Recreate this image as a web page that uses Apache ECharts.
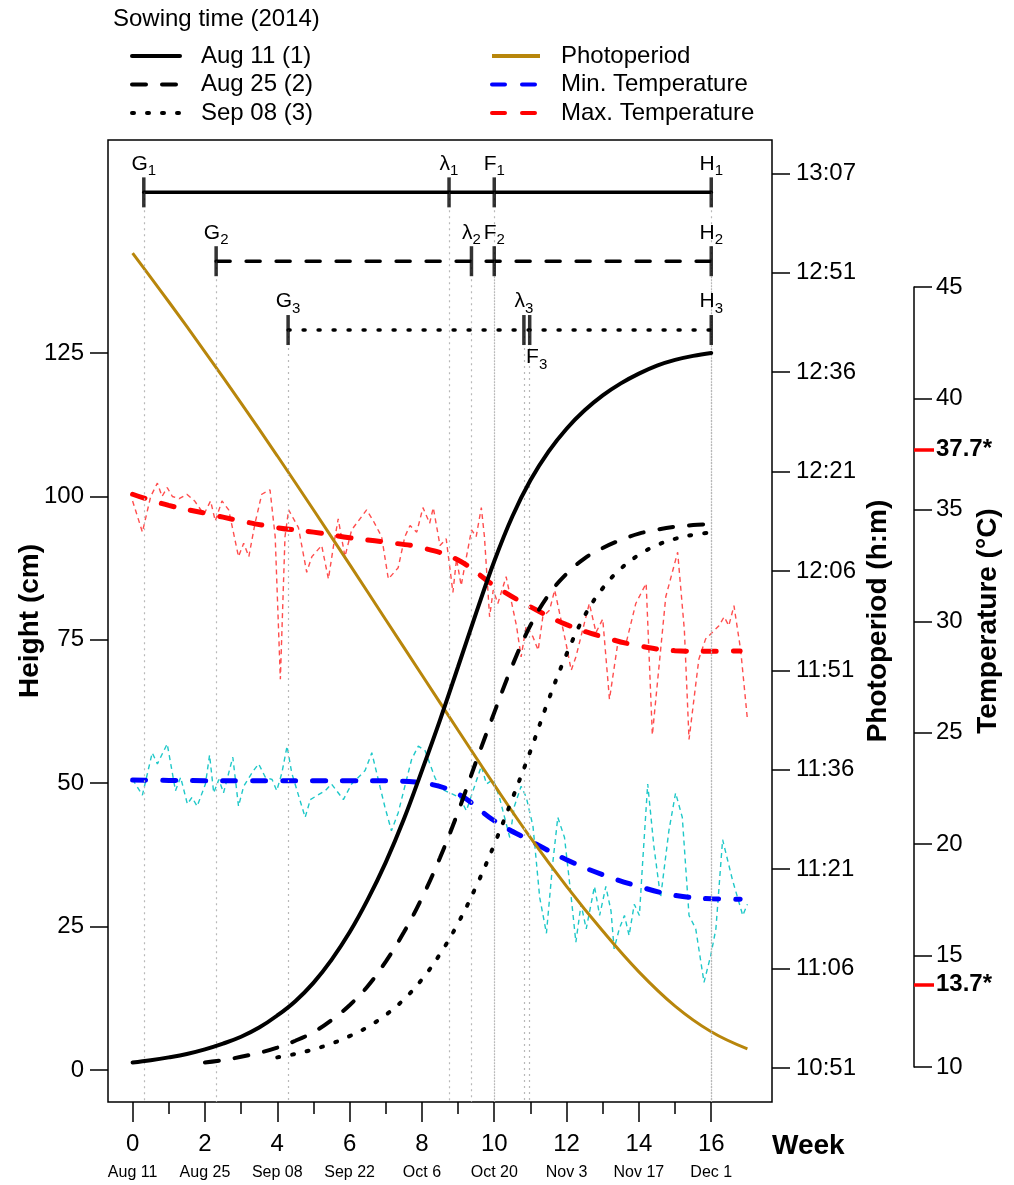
<!DOCTYPE html>
<html>
<head>
<meta charset="utf-8">
<script src="https://cdn.jsdelivr.net/npm/echarts@6/dist/echarts.min.js"></script>
<style>html,body{margin:0;padding:0;background:#fff;}#c{width:1014px;height:1185px;}</style>
</head>
<body>
<div id="c"></div>
<script>
// ---------------- DATA ----------------
const WEEK_MAJOR = [0, 2, 4, 6, 8, 10, 12, 14, 16];
const WEEK_MINOR = [1, 3, 5, 7, 9, 11, 13, 15];
const DATE_LABELS = ['Aug 11', 'Aug 25', 'Sep 08', 'Sep 22', 'Oct 6', 'Oct 20', 'Nov 3', 'Nov 17', 'Dec 1'];
const HEIGHT_TICKS = [0, 25, 50, 75, 100, 125];
const PHOTO_TICK_LABELS = ['10:51', '11:06', '11:21', '11:36', '11:51', '12:06', '12:21', '12:36', '12:51', '13:07'];
const TEMP_TICKS = [10, 15, 20, 25, 30, 35, 40, 45];
const TEMP_EXTREMES = [13.7, 37.7];

// growth curves (week, height cm), read every half week
const W1 = [0, 0.5, 1, 1.5, 2, 2.5, 3, 3.5, 4, 4.5, 5, 5.5, 6, 6.5, 7, 7.5, 8, 8.5, 9, 9.5, 10, 10.5, 11, 11.5, 12, 12.5, 13, 13.5, 14, 14.5, 15, 15.5, 16];
const H1 = [1.3, 1.7, 2.2, 2.8, 3.6, 4.6, 5.8, 7.4, 9.5, 12.0, 15.2, 19.2, 24.0, 29.7, 36.2, 43.7, 52.2, 61.0, 70.3, 79.7, 88.7, 96.5, 102.8, 107.8, 111.8, 115.0, 117.6, 119.7, 121.4, 122.8, 123.8, 124.5, 125];
const W2 = [2, 2.5, 3, 3.5, 4, 4.5, 5, 5.5, 6, 6.5, 7, 7.5, 8, 8.5, 9, 9.5, 10, 10.5, 11, 11.5, 12, 12.5, 13, 13.5, 14, 14.5, 15, 15.5, 16];
const H2 = [1.3, 1.7, 2.3, 3.0, 3.9, 5.1, 6.6, 8.7, 11.3, 14.6, 18.9, 24.0, 30.0, 37.0, 45.0, 53.8, 62.3, 70.5, 77.5, 82.8, 86.5, 89.2, 91.0, 92.4, 93.5, 94.2, 94.7, 95.0, 95.2];
const W3 = [4, 4.5, 5, 5.5, 6, 6.5, 7, 7.5, 8, 8.5, 9, 9.5, 10, 10.5, 11, 11.5, 12, 12.5, 13, 13.5, 14, 14.5, 15, 15.5, 16];
const H3 = [2.2, 2.8, 3.6, 4.6, 5.9, 7.5, 9.6, 12.3, 15.8, 20.2, 25.6, 32.0, 39.3, 47.3, 55.6, 64.5, 72.5, 79.2, 84.0, 87.4, 89.8, 91.5, 92.6, 93.3, 93.7];

// photoperiod (week, minutes of daylight)
const PHOTO_W = [0, 1, 2, 3, 4, 5, 6, 7, 8, 9, 10, 11, 12, 13, 14, 15, 16, 17];
const PHOTO_MIN = [774.8, 767.4, 759.8, 752.0, 744.0, 735.8, 727.5, 719.1, 710.7, 702.3, 694.0, 686.0, 678.6, 671.8, 665.6, 660.4, 656.5, 653.9];

// temperature trends (week, °C)
const MAXTR_W = [0, 1, 2, 3, 4, 5, 6, 7, 8, 9, 10, 11, 12, 13, 14, 15, 16, 16.8];
const MAXTR_T = [35.7, 35.2, 34.85, 34.5, 34.2, 34.0, 33.75, 33.55, 33.3, 32.75, 31.6, 30.65, 29.85, 29.3, 28.9, 28.68, 28.65, 28.67];
const MINTR_W = [0, 1, 2, 3, 4, 5, 6, 7, 8, 9, 10, 11, 12, 13, 14, 15, 16, 16.8];
const MINTR_T = [22.88, 22.86, 22.85, 22.85, 22.85, 22.85, 22.85, 22.84, 22.75, 22.25, 21.05, 20.15, 19.3, 18.63, 18.1, 17.7, 17.55, 17.53];

// daily temperatures (day after Aug 11, °C)
const MAXD_DAY = [0, 1.9, 3.5, 4.8, 5.7, 6.7, 7.7, 9, 10.5, 12, 13.8, 15.1, 16.0, 17.3, 18.6, 20.5, 21.5, 22.5, 23.7, 25.0, 26.6, 27.6, 28.6, 29.5, 30.2, 32.1, 33.7, 34.7, 36.6, 37.9, 38.9, 39.8, 41.1, 42.4, 45.3, 46.6, 48.2, 49.5, 51.4, 52.7, 53.7, 55.0, 56.2, 57.5, 58.2, 59.5, 60.7, 62.0, 62.7, 63.6, 64.3, 65.6, 66.5, 67.5, 68.1, 69.1, 69.8, 70.7, 72.3, 74.3, 75.2, 76.2, 77.5, 78.5, 79.4, 80.7, 81.7, 83.9, 84.9, 85.8, 88.4, 89.7, 91.0, 92.3, 93.9, 95.5, 97.4, 99.4, 100.6, 103.2, 105.5, 106.8, 107.7, 109.6, 110.9, 113.5, 114.5, 115.4, 116.4, 117.7, 119.0];
const MAXD_T = [35.4, 34.0, 35.6, 36.2, 35.6, 36.0, 35.6, 35.5, 35.7, 35.4, 34.8, 35.4, 34.5, 35.4, 35.0, 32.9, 33.5, 32.9, 34.4, 35.7, 35.9, 33.8, 27.4, 33.8, 35.0, 34.2, 32.2, 32.9, 33.4, 31.9, 33.4, 34.6, 32.9, 34.1, 35.0, 34.5, 33.8, 31.9, 32.4, 33.8, 34.3, 34.0, 35.1, 34.4, 35.1, 33.4, 33.7, 31.3, 32.8, 31.6, 32.5, 34.1, 33.8, 35.1, 33.8, 30.2, 31.4, 30.8, 32.0, 29.8, 28.4, 29.8, 29.3, 28.7, 30.2, 30.5, 31.4, 29.0, 27.8, 28.4, 30.8, 29.5, 30.1, 26.5, 29.0, 29.0, 30.8, 31.7, 24.9, 31.1, 33.1, 29.6, 24.7, 28.3, 29.2, 29.8, 30.2, 29.8, 30.7, 28.7, 25.6];
const MIND_DAY = [0, 1.9, 3.8, 4.8, 6.7, 8.3, 9.3, 10.6, 11.5, 12.5, 14.1, 14.9, 15.7, 16.7, 17.6, 19.4, 20.5, 21.5, 23.4, 24.4, 25.7, 27.0, 27.9, 28.9, 29.9, 30.8, 33.4, 34.4, 37.3, 38.5, 40.8, 42.4, 45.0, 46.3, 48.8, 50.1, 51.4, 54.0, 55.3, 56.6, 58.5, 59.5, 61.4, 63.3, 64.6, 65.9, 67.5, 68.5, 69.8, 71.0, 73.0, 73.9, 75.2, 76.2, 77.5, 78.8, 80.1, 81.3, 82.3, 83.6, 84.9, 85.8, 86.8, 87.8, 89.4, 90.4, 91.6, 92.6, 93.2, 94.2, 95.2, 96.1, 97.1, 98.1, 98.7, 99.7, 100.9, 102.2, 103.8, 105.1, 106.4, 107.7, 109.0, 110.6, 111.9, 112.9, 114.2, 116.1, 118.1, 119.0];
const MIND_T = [22.9, 22.2, 24.1, 23.6, 24.5, 22.4, 23.0, 21.8, 22.1, 21.7, 22.7, 24.0, 22.3, 22.9, 22.3, 23.9, 21.7, 22.6, 23.3, 23.6, 23.0, 22.9, 22.4, 23.2, 24.4, 23.2, 21.2, 22.0, 22.4, 22.7, 22.0, 22.7, 23.3, 24.1, 21.7, 20.6, 21.4, 23.8, 24.4, 24.2, 23.0, 22.5, 22.3, 22.1, 21.5, 22.4, 23.5, 22.7, 22.9, 22.1, 20.3, 21.7, 22.6, 22.1, 20.8, 17.6, 16.0, 19.1, 21.2, 20.3, 17.6, 15.6, 17.3, 16.2, 18.1, 16.8, 18.1, 17.0, 15.3, 16.2, 16.8, 15.9, 17.3, 16.8, 19.1, 22.7, 19.9, 17.6, 20.6, 22.3, 21.2, 16.8, 16.2, 13.8, 15.0, 16.2, 20.2, 18.4, 16.8, 17.3];

// phenological events per sowing (week)
const EV_G = [0.31, 2.31, 4.30];
const EV_L = [8.75, 9.37, 10.82];
const EV_F = [10.0, 10.0, 10.98];
const EV_H = [16, 16, 16];

// ---------------- CHART ----------------
const FONT = "'Liberation Sans', Arial, sans-serif";
const NARROW = "'Liberation Sans Narrow', 'Arial Narrow', 'Liberation Sans', sans-serif";
const H_MIN = -5.579, H_MAX = 162.13;
const P_MIN = 645.835, P_MAX = 791.97, P_BASE = 651, P_STEP = 15.1;
const T_MIN = 8.4295, T_MAX = 51.596;
const PHOTO_TICKS = PHOTO_TICK_LABELS.map((_, i) => +(P_BASE + i * P_STEP).toFixed(2));

const pairs = (xs, ys) => xs.map((x, i) => [x, ys[i]]);
const dayPairs = (ds, ys) => ds.map((d, i) => [d / 7, ys[i]]);

const tickStyle = { color: '#000', width: 1.5 };
const DASH = [14, 16];
const DOT = [2, 13];
const noLine = { show: false, onZero: false };
const titleFont = { fontSize: 28, fontWeight: 'bold', fontFamily: FONT, color: '#000' };

const series = [];

// event rows
const rowY = [153, 141, 129];
const rowType = ['solid', DASH, DOT];
const evNames = ['G', 'λ', 'F', 'H'];
for (let r = 0; r < 3; r++) {
  const evs = [EV_G[r], EV_L[r], EV_F[r], EV_H[r]];
  series.push({
    type: 'line', name: 'row' + r, xAxisIndex: 0, yAxisIndex: 0, symbol: 'none', silent: true,
    data: [[EV_G[r], rowY[r]], [EV_H[r], rowY[r]]],
    lineStyle: { color: '#000', width: 3.5, type: rowType[r], cap: 'round' },
    markLine: {
      silent: true, symbol: ['none', 'none'], label: { show: false },
      lineStyle: { color: '#b8b8b8', width: 1.2, type: [2, 4] },
      data: evs.map(x => [{ coord: [x, rowY[r]] }, { coord: [x, H_MIN] }])
    },
    z: 1
  });
}

// daily temps
series.push({
  type: 'line', name: 'maxDaily', xAxisIndex: 0, yAxisIndex: 2, symbol: 'none', silent: true,
  data: dayPairs(MAXD_DAY, MAXD_T),
  lineStyle: { color: '#ff4d4d', width: 1.4, type: [5, 4] }, z: 2
});
series.push({
  type: 'line', name: 'minDaily', xAxisIndex: 0, yAxisIndex: 2, symbol: 'none', silent: true,
  data: dayPairs(MIND_DAY, MIND_T),
  lineStyle: { color: '#1ec8c8', width: 1.4, type: [5, 4] }, z: 2
});
// trends
series.push({
  type: 'line', name: 'Min. Temperature', xAxisIndex: 0, yAxisIndex: 2, symbol: 'none', smooth: 0.4,
  data: pairs(MINTR_W, MINTR_T), color: '#0000ff',
  lineStyle: { color: '#0000ff', width: 5, type: [13, 17], cap: 'round' }, z: 3
});
series.push({
  type: 'line', name: 'Max. Temperature', xAxisIndex: 0, yAxisIndex: 2, symbol: 'none', smooth: 0.4,
  data: pairs(MAXTR_W, MAXTR_T), color: '#ff0000',
  lineStyle: { color: '#ff0000', width: 5, type: [13, 17], cap: 'round' }, z: 3
});
// photoperiod
series.push({
  type: 'line', name: 'Photoperiod', xAxisIndex: 0, yAxisIndex: 1, symbol: 'none', smooth: 0.4,
  data: pairs(PHOTO_W, PHOTO_MIN), color: '#b8860b',
  lineStyle: { color: '#b8860b', width: 3 }, z: 4
});
// growth curves
const growth = [
  ['Aug 11 (1)', W1, H1, 'solid'],
  ['Aug 25 (2)', W2, H2, DASH],
  ['Sep 08 (3)', W3, H3, DOT]
];
growth.forEach(([name, w, h, t]) => {
  series.push({
    type: 'line', name, xAxisIndex: 0, yAxisIndex: 0, symbol: 'none', smooth: 0.4,
    data: pairs(w, h), color: '#000',
    lineStyle: { color: '#000', width: 4, type: t, cap: 'round' }, z: 5
  });
});
// event ticks + labels
for (let r = 0; r < 3; r++) {
  const evs = [EV_G[r], EV_L[r], EV_F[r], EV_H[r]];
  series.push({
    type: 'scatter', name: 'ev' + r, xAxisIndex: 0, yAxisIndex: 0, silent: true,
    symbol: 'rect', symbolSize: [3.5, 30], itemStyle: { color: '#000' },
    data: evs.map((x, i) => {
      const item = { value: [x, rowY[r]], lab: evNames[i], sub: r + 1 };
      if (r === 2 && i === 2) item.label = { position: 'bottom', distance: 2, offset: [7, 0] };
      return item;
    }),
    label: {
      show: true, position: 'top', distance: 3, color: '#000', opacity: 1,
      formatter: p => '{b|' + p.data.lab + '}{s|' + p.data.sub + '}',
      rich: {
        b: { fontSize: 21, lineHeight: 21, fontFamily: FONT, color: '#000', verticalAlign: 'top' },
        s: { fontSize: 15, lineHeight: 15, fontFamily: FONT, color: '#000', padding: [10, 0, 0, 0], verticalAlign: 'top' }
      }
    },
    z: 6
  });
}

const legendCommon = {
  orient: 'vertical', top: 44, padding: 0,
  itemWidth: 48, itemHeight: 14, itemGap: 4.5, selectedMode: false,
  itemStyle: { opacity: 0, borderWidth: 0 },
  lineStyle: { width: 4 },
  textStyle: { fontSize: 24, lineHeight: 24, fontFamily: FONT, color: '#000', padding: [0, 0, 0, 16] }
};

const option = {
  animation: false,
  backgroundColor: '#fff',
  textStyle: { fontFamily: FONT, color: '#000' },
  title: [
    { text: 'Sowing time (2014)', left: 108, top: 2, textStyle: { fontSize: 24, fontWeight: 'normal', fontFamily: FONT, color: '#000' } },
    { text: 'Week', left: 767, top: 1127, textStyle: titleFont }
  ],
  legend: [
    Object.assign({ data: ['Aug 11 (1)', 'Aug 25 (2)', 'Sep 08 (3)'], left: 130 }, legendCommon),
    Object.assign({ data: ['Photoperiod', 'Min. Temperature', 'Max. Temperature'], left: 490 }, legendCommon)
  ],
  grid: [
    { left: 108, top: 140, width: 664, height: 962, show: true, borderColor: '#000', borderWidth: 1.5, backgroundColor: 'transparent' },
    { left: 913, top: 287, width: 1, height: 780 }
  ],
  xAxis: [
    {
      type: 'value', gridIndex: 0, position: 'bottom', min: -0.68, max: 17.68,
      axisLine: noLine, splitLine: { show: false },
      axisTick: { show: true, customValues: WEEK_MAJOR, length: 20, lineStyle: tickStyle },
      axisLabel: {
        show: true, customValues: WEEK_MAJOR, margin: 28,
        formatter: v => '{n|' + v + '}\n{d|' + DATE_LABELS[WEEK_MAJOR.indexOf(v)] + '}',
        rich: {
          n: { fontSize: 24, lineHeight: 28, fontFamily: FONT, color: '#000' },
          d: { fontSize: 16, lineHeight: 30, fontFamily: NARROW, color: '#000' }
        }
      }
    },
    {
      type: 'value', gridIndex: 0, min: -0.68, max: 17.68, position: 'bottom',
      axisLine: noLine, splitLine: { show: false },
      axisTick: { show: true, customValues: WEEK_MINOR, length: 12, lineStyle: tickStyle },
      axisLabel: { show: false }
    },
    { type: 'value', gridIndex: 1, min: 0, max: 1, show: false }
  ],
  yAxis: [
    {
      type: 'value', gridIndex: 0, position: 'left', min: H_MIN, max: H_MAX,
      axisLine: noLine, splitLine: { show: false },
      axisTick: { show: true, customValues: HEIGHT_TICKS, length: 18, lineStyle: tickStyle },
      axisLabel: { customValues: HEIGHT_TICKS, fontSize: 24, margin: 24, color: '#000', fontFamily: FONT },
      name: 'Height (cm)', nameLocation: 'middle', nameRotate: 90, nameGap: 64, nameMoveOverlap: false,
      nameTextStyle: titleFont
    },
    {
      type: 'value', gridIndex: 0, position: 'right', min: P_MIN, max: P_MAX,
      axisLine: noLine, splitLine: { show: false },
      axisTick: { show: true, customValues: PHOTO_TICKS, length: 18, lineStyle: tickStyle },
      axisLabel: {
        customValues: PHOTO_TICKS, fontSize: 24, margin: 24, color: '#000', fontFamily: FONT,
        formatter: v => PHOTO_TICK_LABELS[Math.round((v - P_BASE) / P_STEP)]
      },
      name: 'Photoperiod (h:m)', nameLocation: 'middle', nameRotate: 90, nameGap: 92, nameMoveOverlap: false,
      nameTextStyle: titleFont
    },
    {
      type: 'value', gridIndex: 0, position: 'right', offset: 142, min: T_MIN, max: T_MAX,
      axisLine: noLine, splitLine: { show: false }, axisTick: { show: false }, axisLabel: { show: false },
      name: 'Temperature (°C)', nameLocation: 'middle', nameRotate: 90, nameGap: 60, nameMoveOverlap: false,
      nameTextStyle: titleFont
    },
    {
      type: 'value', gridIndex: 1, position: 'right', min: 10, max: 45,
      axisLine: { show: true, onZero: false, lineStyle: { color: '#000', width: 1.5 } }, splitLine: { show: false },
      axisTick: { show: true, customValues: TEMP_TICKS, length: 18, lineStyle: tickStyle },
      axisLabel: { customValues: TEMP_TICKS, fontSize: 24, margin: 22, color: '#000', fontFamily: FONT }
    },
    {
      type: 'value', gridIndex: 1, position: 'right', min: 10, max: 45,
      axisLine: noLine, splitLine: { show: false },
      axisTick: { show: true, customValues: TEMP_EXTREMES, length: 20, lineStyle: { color: '#ff0000', width: 3.5 } },
      axisLabel: {
        customValues: TEMP_EXTREMES, fontSize: 24, fontWeight: 'bold', margin: 22, color: '#000', fontFamily: FONT,
        formatter: v => v.toFixed(1) + '*'
      }
    }
  ],
  series
};

const chart = echarts.init(document.getElementById('c'), null, { renderer: 'canvas' });
chart.setOption(option);
</script>
</body>
</html>
